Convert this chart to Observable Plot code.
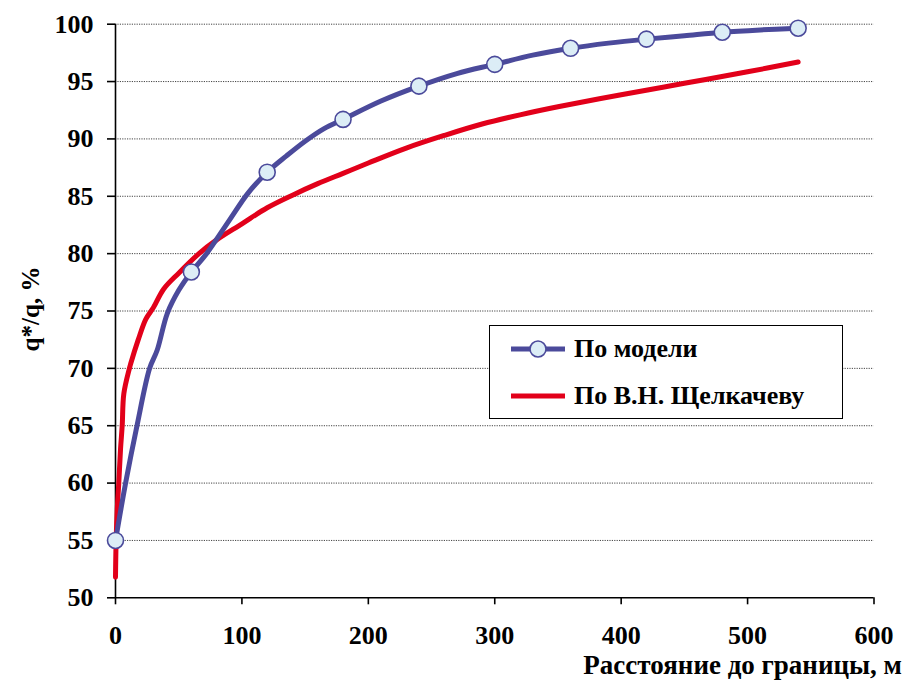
<!DOCTYPE html>
<html>
<head>
<meta charset="utf-8">
<script src="https://cdn.jsdelivr.net/npm/d3@7"></script>
<script src="https://cdn.jsdelivr.net/npm/@observablehq/plot@0.6"></script>
<style>
  #wrap, #wrap * { font-family: 'Liberation Serif', 'Times New Roman', serif; font-weight: bold; }
</style>
</head>
<body style="margin:0;padding:0;background:#fff">
<div id="wrap" style="position:relative;width:903px;height:684px"></div>
<script>
// Series "По модели": smooth curve points and its markers
const modelLineX = [0, 8, 17, 27, 33, 41, 50, 60, 72, 90, 105, 120, 135, 150, 165, 180, 210, 240, 270, 300, 330, 360, 390, 420, 450, 480, 510, 540];
const modelLineY = [55, 60, 65, 70, 71.6, 74.8, 76.8, 78.4, 80, 82.9, 85.3, 87.1, 88.5, 89.8, 90.9, 91.7, 93.3, 94.6, 95.7, 96.5, 97.3, 97.9, 98.35, 98.7, 99.0, 99.3, 99.5, 99.65];
const modelMarkX = [0, 60, 120, 180, 240, 300, 360, 420, 480, 540];
const modelMarkY = [55, 78.4, 87.1, 91.7, 94.6, 96.5, 97.9, 98.7, 99.3, 99.65];
// Series "По В.Н. Щелкачеву"
const shchX = [0, 0.5, 1.5, 2.6, 4, 5.3, 6.6, 11, 12, 18, 24, 30, 38, 50, 66, 80, 100, 120, 140, 160, 180, 200, 230, 260, 290, 320, 350, 400, 450, 500, 540];
const shchY = [51.8, 55, 58, 60, 63, 65, 67.8, 70, 70.4, 72.5, 74.3, 75.3, 76.9, 78.3, 80, 81.2, 82.6, 84.0, 85.1, 86.1, 87.0, 87.9, 89.2, 90.3, 91.3, 92.1, 92.8, 93.85, 94.85, 95.85, 96.7];
// Axes
const xTicks = [0, 100, 200, 300, 400, 500, 600];
const yTicks = [50, 55, 60, 65, 70, 75, 80, 85, 90, 95, 100];
const gridY = [55, 60, 65, 70, 75, 80, 85, 90, 95, 100];
const seriesNames = ["По модели", "По В.Н. Щелкачеву"];
const xTitle = "Расстояние до границы, м";
const yTitle = "q*/q, %";

const blue = "#4b4a9b", red = "#e2001a", markFill = "#dcedf6";
const modelLine = modelLineX.map((x, i) => ({x, y: modelLineY[i]}));
const modelMarks = modelMarkX.map((x, i) => ({x, y: modelMarkY[i]}));
const shch = shchX.map((x, i) => ({x, y: shchY[i]}));

const font = "Liberation Serif";
const chart = Plot.plot({
  width: 903, height: 684,
  marginLeft: 115, marginRight: 29.5, marginTop: 23.7, marginBottom: 86.7,
  style: {fontFamily: font, fontWeight: "bold", fontSize: "26px", background: "#fff", color: "#000"},
  x: {domain: [0, 600]},
  y: {domain: [50, 100]},
  marks: [
    Plot.ruleY(gridY, {stroke: "#444", strokeWidth: 1, strokeDasharray: "1.2,1.2"}),
    Plot.ruleX([0], {stroke: "#000", strokeWidth: 1.6}),
    Plot.ruleY([50], {stroke: "#000", strokeWidth: 1.6}),
    Plot.axisY({ticks: yTicks, tickSize: 8, tickPadding: 14, label: null, fontSize: 26, fontFamily: font, fontWeight: "bold", strokeWidth: 1.6}),
    Plot.axisX({ticks: xTicks, tickSize: 7, tickPadding: 21, label: null, fontSize: 26, fontFamily: font, fontWeight: "bold", strokeWidth: 1.6}),
    Plot.line(shch, {x: "x", y: "y", stroke: red, strokeWidth: 5, curve: "catmull-rom"}),
    Plot.line(modelLine, {x: "x", y: "y", stroke: blue, strokeWidth: 5, curve: "catmull-rom"}),
    Plot.dot(modelMarks, {x: "x", y: "y", r: 8, fill: markFill, stroke: blue, strokeWidth: 1.6}),
    Plot.text([xTitle], {frameAnchor: "bottom-right", text: d => d, dx: 28, dy: 75.7, lineAnchor: "bottom", textAnchor: "end", fontSize: 27, fontFamily: font, fontWeight: "bold"}),
    Plot.text([yTitle], {frameAnchor: "left", text: d => d, dx: -85, dy: -2, rotate: -90, textAnchor: "middle", fontSize: 25, fontFamily: font, fontWeight: "bold"})
  ]
});
const wrap = document.getElementById("wrap");
wrap.appendChild(chart);

const legend = document.createElement("div");
legend.setAttribute("style", "position:absolute;left:489px;top:325px;width:352px;height:92px;border:1.6px solid #000;background:#fff;font-weight:bold;font-size:26px;color:#000;");
const rowStyle = "position:absolute;left:20px;display:flex;align-items:center;";
legend.innerHTML = `
  <div style="${rowStyle}top:8px"><svg width="56" height="30"><line x1="1" y1="15" x2="55" y2="15" stroke="${blue}" stroke-width="5"/><circle cx="28" cy="15" r="8" fill="${markFill}" stroke="${blue}" stroke-width="1.6"/></svg><span style="margin-left:8px">${seriesNames[0]}</span></div>
  <div style="${rowStyle}top:55px"><svg width="56" height="30"><line x1="1" y1="15" x2="55" y2="15" stroke="${red}" stroke-width="5"/></svg><span style="margin-left:8px">${seriesNames[1]}</span></div>`;
wrap.appendChild(legend);
</script>
</body>
</html>
